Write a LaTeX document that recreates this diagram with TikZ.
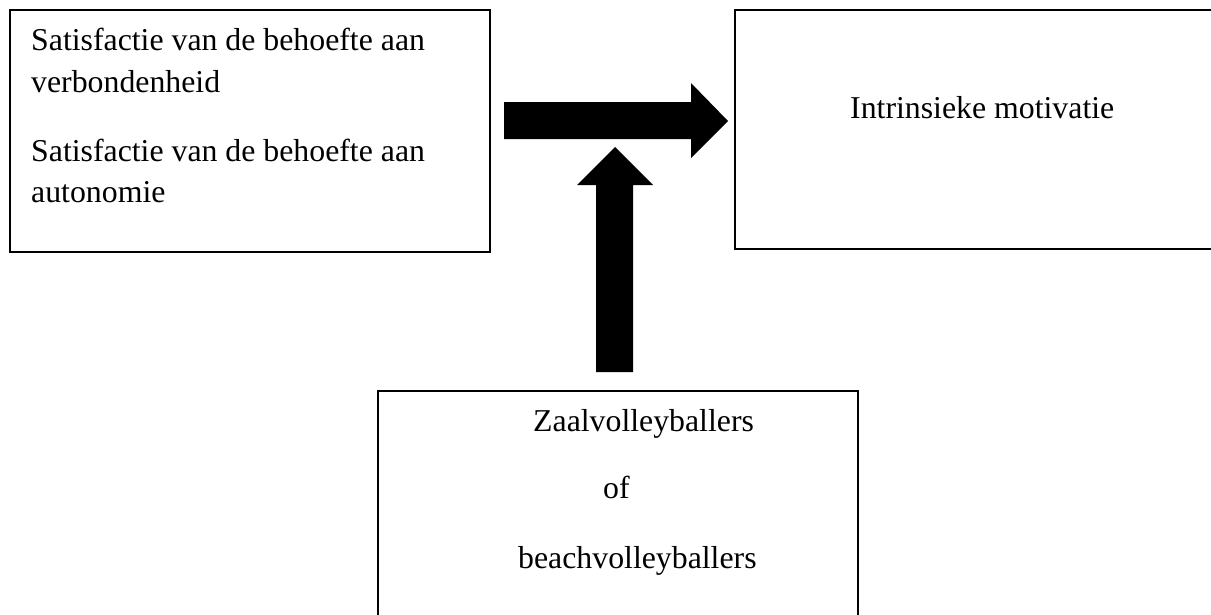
\documentclass[tikz,border=0pt]{standalone}
\usepackage{fontspec}
\setmainfont{Liberation Serif}
\begin{document}
\begin{tikzpicture}[x=1pt,y=-1pt,
  box/.style={draw=black,line width=1.8pt},
  lbl/.style={anchor=base west,inner sep=0pt,font=\fontsize{31.8}{42}\selectfont},
  blockarrow/.style={fill=black,draw=none}]
\useasboundingbox (0,0) rectangle (1211,614);
% boxes
\draw[box] (10,10) rectangle (490,252);
\draw[box] (735,10) rectangle (1220,249);
\draw[box] (378,391) rectangle (858,625);
% texts
\node[lbl] (t1) at (31,50) {Satisfactie van de behoefte aan};
\node[lbl] (t2) at (31,92) {verbondenheid};
\node[lbl] (t3) at (31,161) {Satisfactie van de behoefte aan};
\node[lbl] (t4) at (31,202) {autonomie};
\node[lbl] (im) at (850,118) {Intrinsieke motivatie};
\node[lbl] (z1) at (533,431) {Zaalvolleyballers};
\node[lbl] (z2) at (603,498) {of};
\node[lbl] (z3) at (518,568) {beachvolleyballers};
% block arrows
\fill[blockarrow] (504,102) -- (691,102) -- (691,83) -- (728,121) -- (691,158) -- (691,139) -- (504,139) -- cycle;
\fill[blockarrow] (596,372) -- (596,185) -- (577,185) -- (615,147) -- (653,185) -- (633,185) -- (633,372) -- cycle;
\end{tikzpicture}
\end{document}
